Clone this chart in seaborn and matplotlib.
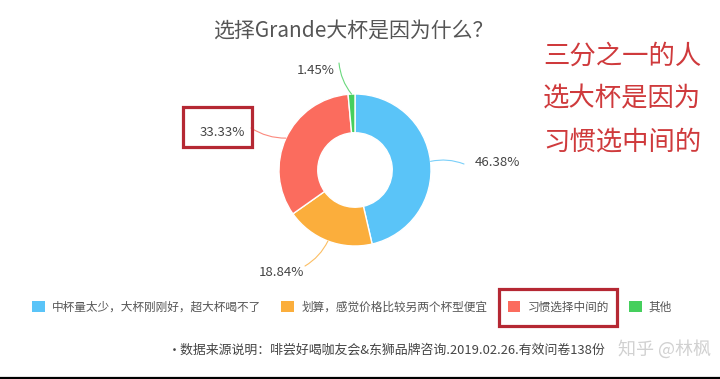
import numpy as np
import matplotlib
matplotlib.use("Agg")
import matplotlib.pyplot as plt
import seaborn as sns
from matplotlib.patches import Rectangle, Patch
from matplotlib.lines import Line2D

# ---- data ----
categories = ["中杯量太少，大杯刚刚好，超大杯喝不了", "划算，感觉价格比较另两个杯型便宜", "习惯选择中间的", "其他"]
values = [46.38, 18.84, 33.33, 1.45]
value_labels = ["46.38%", "18.84%", "33.33%", "1.45%"]
colors = ["#5ac4f8", "#fbae3c", "#fb6c5e", "#45cf5d"]
title = "选择Grande大杯是因为什么？"
side_note = ["三分之一的人", "选大杯是因为", "习惯选中间的"]
footer = "•数据来源说明：啡尝好喝咖友会&东狮品牌咨询.2019.02.26.有效问卷138份"
watermark = "知乎 @林枫"

sns.set_theme(style="white")
plt.rcParams['font.family'] = ['Noto Sans CJK SC', 'DejaVu Sans']

W, H = 720, 379
fig = plt.figure(figsize=(7.2, 3.79), dpi=100)
fig.patch.set_facecolor("white")

def fx(x):
    return x / W

def fy(y):
    return 1 - y / H

# donut axes: center (355,170), radius 76 px
cx, cy, R = 355, 170, 76
ax = fig.add_axes([fx(cx - R), fy(cy + R), 2 * R / W, 2 * R / H])
palette = sns.color_palette(colors)
wedges, _ = ax.pie(values, colors=palette, startangle=90, counterclock=False,
                   radius=1, wedgeprops=dict(width=0.51, edgecolor="white", linewidth=1.0))
ax.set_xlim(-1, 1)
ax.set_ylim(-1, 1)
ax.set_aspect("auto")
ax.axis("off")

# label positions (pixel centers) and leader lines
label_pos = [(497, 163), (281, 272), (222, 132), (316, 70)]
line_end = [(464, 164), (305, 266), (251, 128), (339, 63)]
for w, lab, (tx, ty), (ex, ey), c in zip(wedges, value_labels, label_pos, line_end, colors):
    ang = np.deg2rad((w.theta1 + w.theta2) / 2)
    fig.text(fx(tx), fy(ty), lab, ha="center", va="center", fontsize=9.5, color="#444444")
    ax.annotate("", xy=(np.cos(ang), np.sin(ang)),
                xytext=(fx(ex), fy(ey)), textcoords="figure fraction",
                arrowprops=dict(arrowstyle="-", color=c, lw=0.8, alpha=0.8,
                                connectionstyle="arc3,rad=0.15", shrinkA=0, shrinkB=0))

# title
fig.text(fx(353), fy(31), title, ha="center", va="center", fontsize=15, color="#555555")

# side note
for i, t in enumerate(side_note):
    fig.text(fx(622), fy(56 + i * 43), t, ha="center", va="center", fontsize=19, color="#cf3a3c")

# legend
handles = [Patch(facecolor=c, edgecolor="none") for c in colors]
leg = fig.legend(handles, categories, loc="center", bbox_to_anchor=(fx(352), fy(307)),
                 ncol=4, frameon=False, fontsize=8.4, handlelength=1.1, handleheight=1.1,
                 handletextpad=0.6, columnspacing=1.75, labelcolor="#555555",
                 borderpad=0, borderaxespad=0)

# highlight boxes
fig.patches.append(Rectangle((fx(183), fy(147)), fx(252) - fx(183), fy(107) - fy(147),
                             transform=fig.transFigure, fill=False, edgecolor="#b52833", lw=2.3))
fig.patches.append(Rectangle((fx(499), fy(326)), fx(617) - fx(499), fy(289) - fy(326),
                             transform=fig.transFigure, fill=False, edgecolor="#b52833", lw=2.3))

# footer and watermark
fig.text(fx(387), fy(350), footer, ha="center", va="center", fontsize=9.3, color="#444444")
fig.text(fx(664), fy(349), watermark, ha="center", va="center", fontsize=13, color="#cccccc", alpha=0.9)

# bottom black line
fig.lines.append(Line2D([0, 1], [fy(377.5), fy(377.5)], transform=fig.transFigure, color="black", lw=1.6))

fig.savefig("out.png", dpi=100, facecolor="white")
